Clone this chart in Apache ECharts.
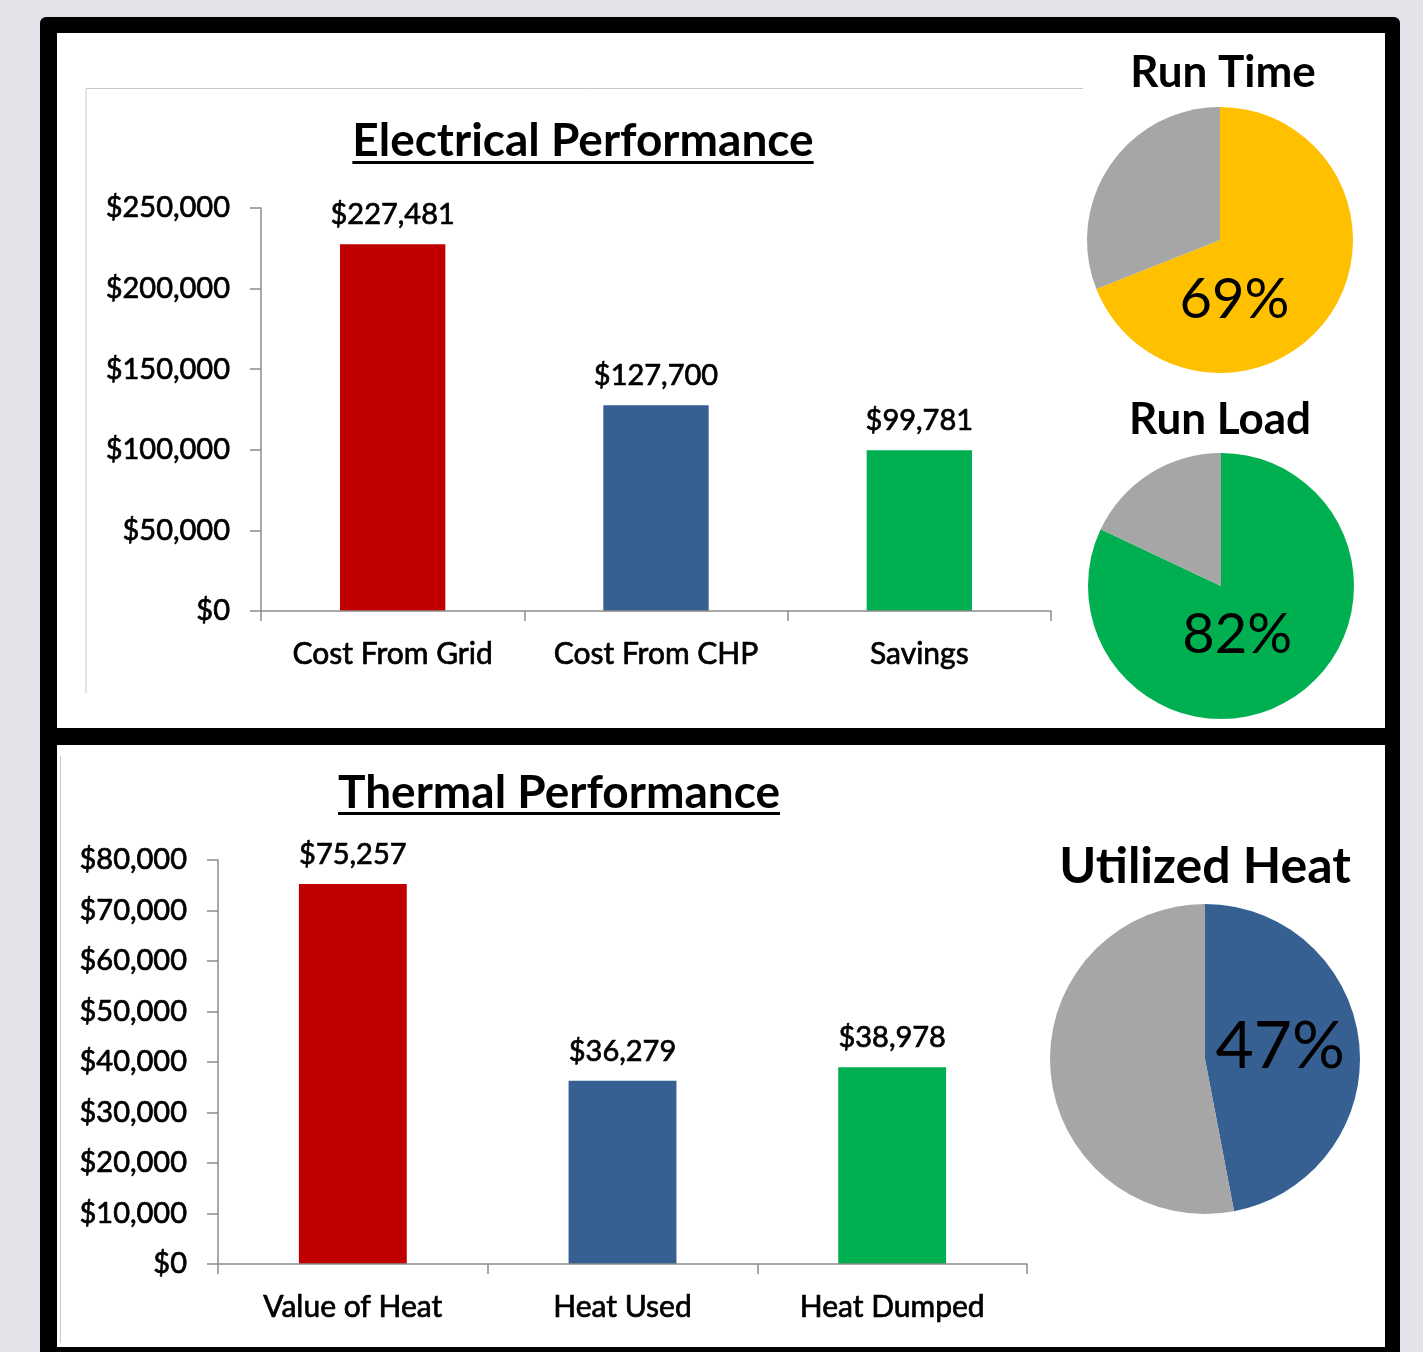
<!DOCTYPE html>
<html>
<head>
<meta charset="utf-8">
<title>CHP Performance</title>
<script src="https://cdn.jsdelivr.net/npm/echarts@6/dist/echarts.min.js"></script>
<style>
  html, body { margin: 0; padding: 0; background: #e2e4e9; }
  #chart { width: 1423px; height: 1352px; }
</style>
</head>
<body>
<div id="chart"></div>
<script>
// data
const elecCategories = ['Cost From Grid', 'Cost From CHP', 'Savings'];
const elecValues = [227481, 127700, 99781];
const thermalCategories = ['Value of Heat', 'Heat Used', 'Heat Dumped'];
const thermalValues = [75257, 36279, 38978];
const barColors = ['#c00000', '#376092', '#00b050'];

const pieNames = ['Run Time', 'Run Load', 'Utilized Heat'];
const pieShares = [69, 82, 47];
const pieColors = ['#ffc000', '#00b050', '#376092'];

const FONT = 'Lato, "Open Sans", sans-serif';
const money = v => '$' + Math.round(v).toLocaleString('en-US');

const chart = echarts.init(document.getElementById('chart'), null, { renderer: 'canvas' });

// measure text so the title underline fits the word
const measureCtx = document.createElement('canvas').getContext('2d');
function textWidth(text, font) {
  measureCtx.font = font;
  return measureCtx.measureText(text).width;
}

function titleWithUnderline(text, cx, cy, size, lineY) {
  const font = 'bold ' + size + 'px ' + FONT;
  const w = textWidth(text, font);
  return [
    { type: 'text', z: 10, style: { text: text, x: cx, y: cy, font: font, fill: '#000', align: 'center', verticalAlign: 'middle' } },
    { type: 'rect', z: 10, shape: { x: cx - w / 2, y: lineY, width: w, height: 3 }, style: { fill: '#000' } }
  ];
}

function plainTitle(text, cx, cy, size) {
  return { type: 'text', z: 10, style: { text: text, x: cx, y: cy, font: 'bold ' + size + 'px ' + FONT, fill: '#000', align: 'center', verticalAlign: 'middle' } };
}

// a hair of stroke makes Lato read as heavy as the original's labels
const axisLabelStyle = { color: '#000', fontFamily: FONT, fontSize: 29, textBorderColor: '#000', textBorderWidth: 0.7 };
const axisGray = '#8c8c8c';

function valueAxis(gridIndex, max, interval) {
  return {
    type: 'value', gridIndex: gridIndex, min: 0, max: max, interval: interval, z: 5,
    axisLine: { show: true, lineStyle: { color: axisGray, width: 1.5 } },
    axisTick: { show: true, length: 11, lineStyle: { color: axisGray, width: 1.5 } },
    splitLine: { show: false },
    axisLabel: Object.assign({ margin: 31, formatter: money }, axisLabelStyle)
  };
}

function categoryAxis(gridIndex, cats) {
  return {
    type: 'category', gridIndex: gridIndex, data: cats, z: 5,
    axisLine: { show: true, lineStyle: { color: axisGray, width: 1.5 } },
    axisTick: { show: true, length: 10, interval: 0, alignWithLabel: false, lineStyle: { color: axisGray, width: 1.5 } },
    axisLabel: Object.assign({}, axisLabelStyle, { margin: 28, fontSize: 30, interval: 0, hideOverlap: false })
  };
}

function barSeries(idx, values) {
  return {
    type: 'bar', xAxisIndex: idx, yAxisIndex: idx, barWidth: '40%', z: 3,
    data: values.map((v, i) => ({ value: v, itemStyle: { color: barColors[i] } })),
    label: Object.assign({ show: true, position: 'top', distance: 15, formatter: p => money(p.value) }, axisLabelStyle),
    emphasis: { disabled: true }
  };
}

// pie label nudges so the percent sits where the original put it
const pieLayouts = [
  { center: [1220, 240], radius: 133, dx: -43, dy: 21, size: 56 },
  { center: [1221, 586], radius: 133, dx: -21, dy: -10, size: 56 },
  { center: [1205, 1059], radius: 155, dx: -5, dy: -5, size: 66 }
];

function pieSeries(i) {
  const L = pieLayouts[i];
  return {
    type: 'pie', center: L.center, radius: [0, L.radius], startAngle: 90, clockwise: true,
    avoidLabelOverlap: false, silent: true,
    itemStyle: { borderWidth: 0 },
    labelLine: { show: false },
    labelLayout: p => (p.dataIndex === 0 ? { dx: L.dx, dy: L.dy } : {}),
    data: [
      { name: pieNames[i], value: pieShares[i], itemStyle: { color: pieColors[i] },
        label: { show: true, position: 'inside', formatter: '{c}%', color: '#000', fontFamily: FONT, fontSize: L.size } },
      { name: 'Other', value: 100 - pieShares[i], itemStyle: { color: '#a6a6a6' }, label: { show: false } }
    ]
  };
}

const frame = [
  { type: 'rect', z: -30, shape: { x: 40, y: 17, width: 1360, height: 1350, r: 6 }, style: { fill: '#000' } },
  { type: 'rect', z: -20, shape: { x: 57, y: 33, width: 1328, height: 695 }, style: { fill: '#fff' } },
  { type: 'rect', z: -20, shape: { x: 57, y: 745, width: 1328, height: 602 }, style: { fill: '#fff' } },
  // chart-area borders left over from the source sheet
  { type: 'polyline', z: -10, shape: { points: [[86, 693], [86, 88.5], [1083, 88.5]] }, style: { stroke: '#c8c8c8', lineWidth: 1, fill: null } },
  { type: 'polyline', z: -10, shape: { points: [[60.5, 1343], [60.5, 756]] }, style: { stroke: '#c8c8c8', lineWidth: 1, fill: null } }
];

const titles = []
  .concat(titleWithUnderline('Electrical Performance', 583, 141, 46, 161))
  .concat(titleWithUnderline('Thermal Performance', 559, 793, 46, 812))
  .concat([
    plainTitle('Run Time', 1223, 73, 44),
    plainTitle('Run Load', 1220, 420, 44),
    plainTitle('Utilized Heat', 1205, 867, 50)
  ]);

chart.setOption({
  backgroundColor: '#e2e4e9',
  animation: false,
  textStyle: { fontFamily: FONT },
  graphic: { elements: frame.concat(titles) },
  grid: [
    { left: 261, right: 1423 - 1051, top: 208, bottom: 1352 - 611, outerBoundsMode: 'none' },
    { left: 218, right: 1423 - 1027, top: 860, bottom: 1352 - 1264, outerBoundsMode: 'none' }
  ],
  xAxis: [categoryAxis(0, elecCategories), categoryAxis(1, thermalCategories)],
  yAxis: [valueAxis(0, 250000, 50000), valueAxis(1, 80000, 10000)],
  series: [
    barSeries(0, elecValues),
    barSeries(1, thermalValues),
    pieSeries(0),
    pieSeries(1),
    pieSeries(2)
  ]
});
</script>
</body>
</html>
